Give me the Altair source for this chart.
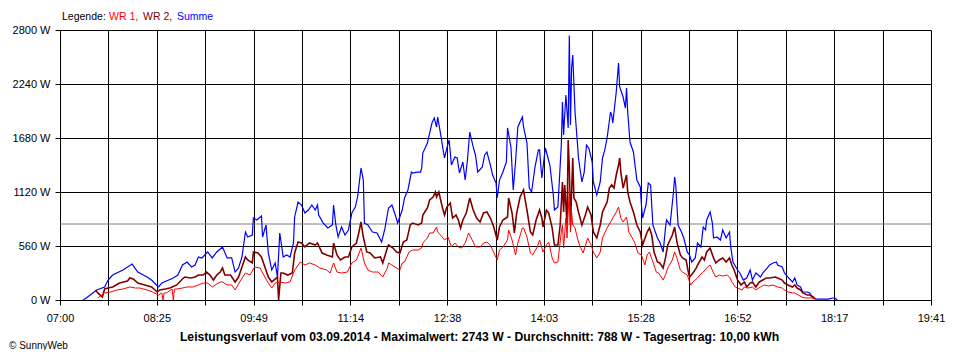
import json
import altair as alt
import pandas as pd

# ---------------- data (minutes after 07:00, watts) ----------------
x_labels = ["07:00", "08:25", "09:49", "11:14", "12:38", "14:03", "15:28", "16:52", "18:17", "19:41"]
x_span = 761          # 07:00 .. 19:41 in minutes
y_ticks = [0, 560, 1120, 1680, 2240, 2800]
average_w = 788

summe_t = [20, 23, 32, 39, 42, 46, 55, 63, 68, 76, 80, 86, 89, 93, 99, 103, 107, 111, 115, 118, 121, 124, 129, 133, 137, 142, 146, 150, 153, 156, 159, 162, 164, 168, 169, 172, 176, 177, 180, 182, 185, 188, 190, 192, 195, 198, 201, 204, 205, 208, 211, 214, 217, 220, 223, 225, 226, 230, 234, 238, 239, 241, 243, 246, 249, 252, 255, 258, 260, 263, 265, 266, 269, 273, 277, 281, 284, 287, 290, 293, 295, 299, 301, 304, 307, 308, 312, 315, 316, 317, 321, 323, 325, 327, 329, 330, 333, 335, 336, 338, 340, 342, 345, 347, 349, 352, 354, 356, 358, 361, 363, 365, 369, 371, 373, 376, 378, 381, 382, 384, 387, 390, 391, 394, 396, 398, 400, 404, 405, 408, 410, 412, 415, 418, 419, 421, 424, 425, 428, 431, 432, 435, 438, 439, 440, 442, 444, 445, 446, 447, 448, 450, 452, 453, 456, 458, 460, 462, 465, 466, 469, 472, 474, 476, 478, 481, 482, 483, 486, 488, 489, 492, 494, 495, 496, 498, 501, 504, 507, 508, 509, 512, 514, 516, 518, 522, 524, 527, 529, 530, 533, 536, 537, 538, 540, 543, 545, 548, 550, 552, 555, 557, 560, 562, 564, 565, 568, 570, 571, 574, 577, 579, 582, 585, 586, 588, 592, 594, 597, 600, 603, 605, 608, 612, 614, 618, 620, 623, 626, 627, 631, 633, 636, 640, 642, 644, 647, 649, 653, 655, 658, 661, 671, 675, 677, 679]
summe_w = [0, 21, 104, 135, 207, 259, 311, 373, 290, 238, 207, 135, 176, 197, 228, 259, 363, 394, 342, 363, 446, 436, 498, 436, 498, 550, 436, 436, 290, 332, 446, 705, 653, 674, 850, 830, 871, 653, 778, 487, 311, 384, 238, 695, 446, 467, 446, 591, 861, 1016, 985, 902, 933, 985, 933, 985, 881, 798, 747, 778, 985, 778, 653, 757, 674, 726, 902, 964, 1068, 1369, 1244, 798, 778, 705, 695, 601, 747, 954, 985, 881, 798, 933, 1058, 1141, 1327, 1317, 1327, 1327, 1369, 1524, 1628, 1732, 1835, 1887, 1794, 1898, 1690, 1535, 1473, 1576, 1659, 1400, 1483, 1473, 1317, 1431, 1244, 1452, 1742, 1587, 1504, 1327, 1379, 1504, 1535, 1400, 1296, 1213, 1058, 1244, 1327, 1431, 1784, 1587, 1141, 1431, 1794, 1898, 1794, 1628, 1161, 1120, 1379, 1556, 1556, 1265, 1576, 1535, 1400, 1089, 933, 964, 1607, 2053, 1711, 2126, 1784, 2743, 1815, 2406, 2541, 1950, 1638, 1473, 1224, 1327, 1607, 1576, 1431, 1224, 1089, 1224, 1473, 1556, 1680, 1950, 1918, 1835, 2157, 2458, 2209, 2105, 1991, 2198, 1950, 1638, 1535, 1244, 1172, 985, 850, 985, 1213, 1193, 778, 643, 601, 498, 747, 830, 778, 1120, 1276, 1193, 778, 705, 643, 498, 467, 394, 436, 591, 550, 757, 726, 830, 913, 798, 643, 653, 622, 726, 643, 705, 550, 394, 311, 280, 207, 228, 311, 207, 280, 238, 280, 332, 363, 384, 394, 363, 342, 280, 238, 187, 228, 156, 135, 83, 83, 73, 21, 10, 10, 21, 21, 0]

wr2_t = [31, 33, 37, 39, 42, 46, 52, 59, 61, 64, 68, 74, 80, 85, 87, 92, 96, 102, 107, 109, 114, 118, 121, 125, 128, 131, 134, 137, 140, 142, 144, 149, 153, 156, 159, 162, 164, 168, 169, 173, 176, 179, 182, 185, 190, 191, 193, 195, 199, 203, 205, 208, 211, 214, 218, 223, 225, 229, 233, 238, 239, 242, 245, 249, 252, 255, 259, 261, 263, 265, 268, 271, 275, 280, 282, 286, 287, 291, 294, 297, 300, 303, 306, 308, 313, 316, 317, 321, 323, 326, 328, 329, 331, 334, 336, 338, 341, 343, 346, 348, 350, 352, 355, 358, 361, 364, 367, 370, 373, 376, 379, 382, 384, 387, 391, 392, 395, 397, 399, 402, 405, 406, 408, 411, 413, 416, 419, 421, 422, 425, 427, 430, 432, 435, 437, 439, 440, 441, 443, 444, 445, 446, 448, 449, 451, 453, 456, 459, 461, 464, 466, 469, 472, 474, 478, 480, 482, 484, 486, 488, 489, 490, 492, 495, 496, 498, 501, 504, 507, 509, 513, 515, 517, 519, 522, 524, 527, 529, 531, 535, 537, 539, 542, 544, 547, 549, 550, 553, 556, 557, 561, 563, 565, 568, 571, 573, 576, 579, 582, 585, 587, 589, 592, 595, 598, 600, 603, 605, 608, 611, 614, 617, 620, 625, 627, 631, 633, 636, 640, 642, 644, 647, 649, 653, 655, 658, 660]
wr2_w = [104, 73, 31, 114, 124, 135, 176, 197, 228, 218, 176, 156, 135, 83, 104, 114, 124, 156, 218, 238, 228, 238, 259, 259, 290, 259, 207, 259, 290, 332, 259, 259, 187, 238, 342, 446, 415, 384, 498, 487, 446, 342, 238, 187, 238, 0, 280, 280, 259, 280, 487, 601, 591, 550, 591, 570, 591, 487, 467, 446, 591, 467, 415, 446, 446, 550, 591, 695, 809, 653, 498, 487, 436, 446, 384, 539, 570, 539, 498, 487, 601, 622, 778, 798, 778, 798, 881, 954, 1037, 1068, 1120, 1068, 1120, 964, 881, 964, 1006, 850, 881, 830, 747, 830, 902, 1058, 933, 850, 809, 902, 913, 850, 757, 622, 757, 830, 861, 1058, 902, 695, 902, 1068, 1141, 1068, 933, 705, 674, 830, 933, 850, 757, 933, 902, 747, 570, 570, 778, 1224, 913, 1193, 778, 1659, 1369, 778, 1473, 1058, 1016, 913, 778, 881, 964, 881, 705, 643, 778, 913, 1016, 1161, 1193, 1161, 1296, 1400, 1473, 1327, 1161, 1296, 1120, 1016, 913, 778, 705, 570, 705, 747, 674, 498, 394, 384, 332, 436, 570, 674, 757, 601, 467, 436, 415, 290, 238, 280, 332, 363, 446, 415, 498, 539, 436, 384, 415, 436, 394, 436, 363, 311, 207, 156, 187, 135, 176, 187, 135, 187, 207, 228, 228, 238, 228, 207, 176, 156, 135, 156, 124, 104, 73, 52, 52, 31, 10]

wr1_t = [33, 39, 44, 50, 55, 61, 66, 70, 76, 81, 86, 89, 90, 91, 93, 98, 99, 100, 102, 107, 111, 116, 121, 125, 129, 133, 137, 140, 142, 146, 150, 153, 157, 162, 166, 170, 175, 177, 182, 185, 188, 192, 197, 201, 205, 210, 214, 218, 223, 227, 233, 236, 239, 242, 246, 251, 255, 259, 263, 266, 269, 273, 278, 282, 286, 287, 290, 294, 297, 299, 301, 305, 308, 313, 316, 317, 321, 323, 326, 329, 330, 334, 336, 339, 342, 345, 348, 351, 354, 357, 361, 363, 367, 370, 373, 376, 378, 382, 384, 387, 391, 392, 395, 398, 400, 404, 405, 408, 411, 413, 417, 419, 422, 425, 427, 430, 432, 435, 438, 439, 440, 442, 443, 445, 446, 447, 448, 450, 452, 454, 457, 460, 461, 464, 466, 469, 472, 474, 478, 481, 483, 486, 488, 490, 492, 495, 497, 500, 502, 505, 508, 511, 513, 515, 518, 521, 523, 527, 529, 531, 535, 537, 539, 542, 544, 548, 551, 553, 557, 559, 562, 565, 568, 571, 573, 576, 579, 583, 585, 587, 590, 592, 596, 598, 601, 605, 608, 612, 615, 619, 623, 627, 631, 633, 636, 640, 642, 645, 648, 651, 654, 657, 660]
wr1_w = [21, 73, 83, 104, 114, 135, 124, 124, 104, 83, 52, 73, 0, 73, 73, 114, 0, 114, 114, 124, 135, 135, 156, 176, 176, 135, 166, 187, 187, 156, 156, 104, 187, 280, 259, 342, 332, 280, 176, 124, 176, 187, 176, 187, 311, 394, 363, 384, 363, 332, 311, 280, 384, 290, 280, 290, 384, 415, 539, 384, 311, 290, 290, 238, 332, 384, 363, 332, 311, 384, 394, 498, 518, 518, 539, 591, 643, 695, 695, 757, 705, 653, 622, 653, 550, 591, 550, 539, 591, 695, 601, 550, 550, 591, 601, 570, 518, 415, 518, 550, 622, 726, 622, 467, 591, 747, 747, 653, 487, 467, 550, 622, 498, 570, 601, 436, 384, 394, 705, 778, 539, 850, 643, 1161, 705, 913, 778, 747, 643, 570, 487, 601, 643, 570, 498, 436, 498, 643, 747, 809, 850, 913, 964, 850, 809, 861, 705, 643, 601, 487, 467, 363, 467, 498, 394, 290, 280, 207, 259, 332, 415, 498, 436, 311, 290, 259, 156, 187, 228, 259, 290, 332, 363, 280, 238, 259, 249, 259, 238, 187, 135, 124, 104, 135, 124, 135, 104, 135, 156, 145, 156, 135, 124, 104, 83, 73, 73, 52, 31, 21, 21, 21, 10]

series_names = ["WR 1", "WR 2", "Summe"]
series_colors = ["#ff0000", "#800000", "#0000ff"]
series_widths = [1.0, 1.6, 1.2]

# ---------------- build ----------------
FONT = "Liberation Sans"
W, H = 871, 270

x_ticks = [k * x_span / 18 for k in range(19)]
label_js = json.dumps(x_labels)
x_label_expr = (f"(round(datum.value*18/{x_span}) % 2 == 0) ? "
                f"{label_js}[round(datum.value*18/{x_span})/2] : ''")

x_scale = alt.Scale(domain=[0, x_span], nice=False, zero=False)
y_scale = alt.Scale(domain=[0, 2800], nice=False)

common_axis = dict(grid=True, gridColor="black", gridOpacity=1, gridWidth=1,
                   domainColor="black", domainWidth=1, tickColor="black",
                   tickSize=5, tickWidth=1, labelColor="black", labelFont=FONT,
                   labelFontSize=11, labelOverlap=False, title=None)

x_axis = alt.Axis(values=x_ticks, labelExpr=x_label_expr, labelFlush=False,
                  labelPadding=7, **common_axis)
y_axis = alt.Axis(values=y_ticks, labelExpr="datum.value + ' W'", labelPadding=5,
                  **common_axis)

avg_rule = alt.Chart(pd.DataFrame({"w": [average_w]})).mark_rule(
    color="#808080", strokeWidth=1
).encode(y=alt.Y("w:Q", scale=y_scale, axis=y_axis))

series_data = {
    "Summe": (summe_t, summe_w),
    "WR 2": (wr2_t, wr2_w),
    "WR 1": (wr1_t, wr1_w),
}

line_layers = []
for name in ["Summe", "WR 2", "WR 1"]:
    idx = series_names.index(name)
    ts, ws = series_data[name]
    df = pd.DataFrame({"t": ts, "w": ws, "serie": name})
    line_layers.append(
        alt.Chart(df).mark_line(color=series_colors[idx], strokeWidth=series_widths[idx],
                                interpolate="linear")
        .encode(x=alt.X("t:Q", scale=x_scale, axis=x_axis),
                y=alt.Y("w:Q", scale=y_scale, axis=y_axis))
    )

one = pd.DataFrame({"a": [0]})

legend_parts = [("Legende:", "black", 2), ("WR 1,", series_colors[0], 49),
                ("WR 2,", series_colors[1], 83), ("Summe", series_colors[2], 117)]
legend_layers = [
    alt.Chart(one).mark_text(text=txt, color=col, font=FONT, fontSize=10.5,
                             align="left", baseline="middle")
    .encode(x=alt.value(xp), y=alt.value(-13))
    for txt, col, xp in legend_parts
]

title_text = ("Leistungsverlauf vom 03.09.2014 - Maximalwert: 2743 W - "
              "Durchschnitt: 788 W - Tagesertrag: 10,00 kWh")
title_layer = alt.Chart(one).mark_text(
    text=title_text, font=FONT, fontSize=12.2, fontWeight="bold", color="black",
    align="center", baseline="middle"
).encode(x=alt.value(419.5), y=alt.value(307))

copy_layer = alt.Chart(one).mark_text(
    text="© SunnyWeb", font=FONT, fontSize=10, color="black",
    align="left", baseline="middle"
).encode(x=alt.value(-51), y=alt.value(315.5))

chart = alt.layer(avg_rule, *line_layers, *legend_layers, title_layer, copy_layer).properties(
    width=W, height=H,
    autosize=alt.AutoSizeParams(type="none"),
    padding={"left": 52, "top": 22, "right": 21, "bottom": 50},
    background="white",
).configure_view(strokeWidth=0)

chart.save("out.html", embed_options={"renderer": "svg", "actions": False})
